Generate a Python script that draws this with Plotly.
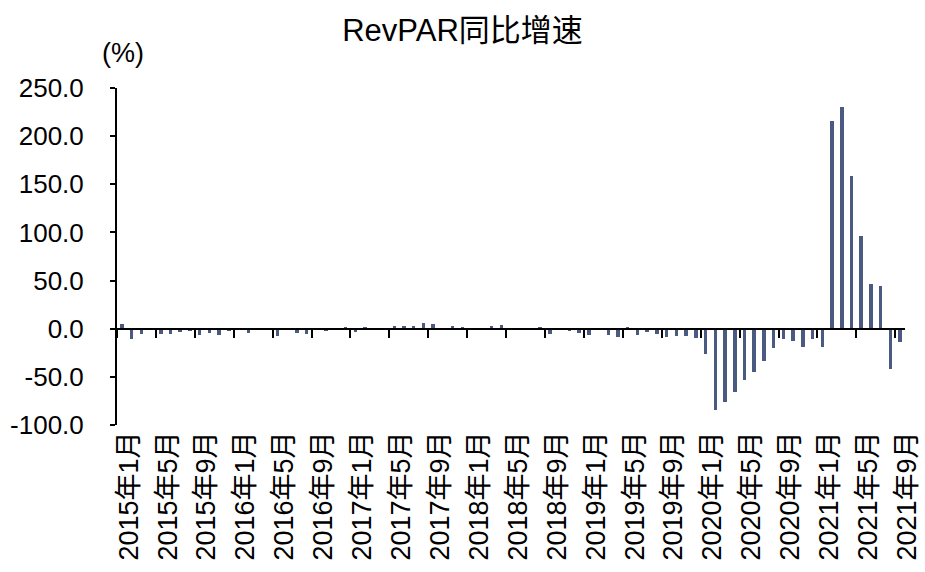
import plotly.graph_objects as go

# Monthly periods 2015-01 .. 2021-09
years = list(range(2015, 2022))
months = [f"{y}年{m}月" for y in years for m in range(1, 13)][:81]

# RevPAR YoY growth (%)
values = [
    4.5, -11, -5, -1.5, -5, -6, -3, -2.5, -6.5, -4, -7, -2,          # 2015
    -0.5, -4, -1, -0.5, -8, -1.5, -4, -6, -1.5, -2, -0.3, 1,         # 2016
    -3, 1.5, -0.5, -1, 2.7, 3.3, 3.3, 5.5, 4.5, -0.5, 3, 1.5,        # 2017
    0.3, 0.3, 2.5, 3.5, -0.3, 0.3, -0.5, 1, -6, 0.5, -2, -4.5,       # 2018
    -7, -0.5, -7, -9, 1.5, -7, -3, -6, -9, -7.5, -7.5, -10,          # 2019
    -26.5, -84, -76.5, -66, -53, -44.5, -33.5, -20.3, -11, -13, -19, -11,  # 2020
    -19, 216, 230.5, 158.7, 96, 46.5, 44, -42, -13.5,                # 2021
]

y_ticks = [-100, -50, 0, 50, 100, 150, 200, 250]
y_tick_text = [f"{v:.1f}" for v in y_ticks]  # plain hyphen-minus as in source

label_step = 4
tick_idx = list(range(0, len(months), label_step))
tick_text = [months[i] for i in tick_idx]
boundary_ticks = [i - 0.5 for i in tick_idx]

y_min, y_max = -100, 250
font_family = "Arial, Liberation Sans, Noto Sans CJK SC, sans-serif"

x_idx = list(range(len(months)))

fig = go.Figure()
fig.add_trace(go.Bar(
    x=x_idx, y=values, width=0.36,
    marker=dict(color="#4B5A80", line=dict(width=0)),
    hovertext=months, showlegend=False,
))
# helper trace to host the zero-line axis with category-boundary ticks
fig.add_trace(go.Scatter(x=[], y=[], xaxis="x2", showlegend=False))

n = len(months)
fig.update_layout(
    width=925, height=572,
    margin=dict(l=117, r=20, t=88, b=147),
    paper_bgcolor="white", plot_bgcolor="white",
    font=dict(family=font_family, color="black", size=24),
    title=dict(text="RevPAR同比增速", x=0.5, xanchor="center",
               y=0.948, yanchor="middle",
               font=dict(size=31, family=font_family, color="black")),
    bargap=0,
    xaxis=dict(
        range=[-0.5, n - 0.5], automargin=False,
        tickmode="array", tickvals=tick_idx, ticktext=tick_text,
        tickangle=-90, ticks="", showline=False, showgrid=False,
        zeroline=False, tickfont=dict(size=27), ticklabelstandoff=0,
        ticklabelshift=7,
    ),
    xaxis2=dict(
        overlaying="x", anchor="free",
        position=(0 - y_min) / (y_max - y_min),
        range=[-0.5, n - 0.5],
        tickmode="array", tickvals=boundary_ticks,
        ticks="outside", ticklen=8, tickwidth=2, tickcolor="black",
        showline=True, linecolor="black", linewidth=2,
        showticklabels=False, showgrid=False, zeroline=False,
    ),
    yaxis=dict(
        range=[y_min, y_max], automargin=False,
        tickmode="array", tickvals=y_ticks, ticktext=y_tick_text,
        showline=True, linecolor="black", linewidth=2,
        ticks="outside", ticklen=5, tickwidth=2, tickcolor="black",
        showgrid=False, zeroline=False, tickfont=dict(size=26),
        ticklabelstandoff=21,
    ),
    annotations=[dict(
        text="(%)", xref="paper", yref="paper", x=0.007, y=1.0,
        xanchor="center", yanchor="bottom", yshift=18, showarrow=False,
        font=dict(size=27, family=font_family, color="black"),
    )],
)

fig.write_html("out.html")
